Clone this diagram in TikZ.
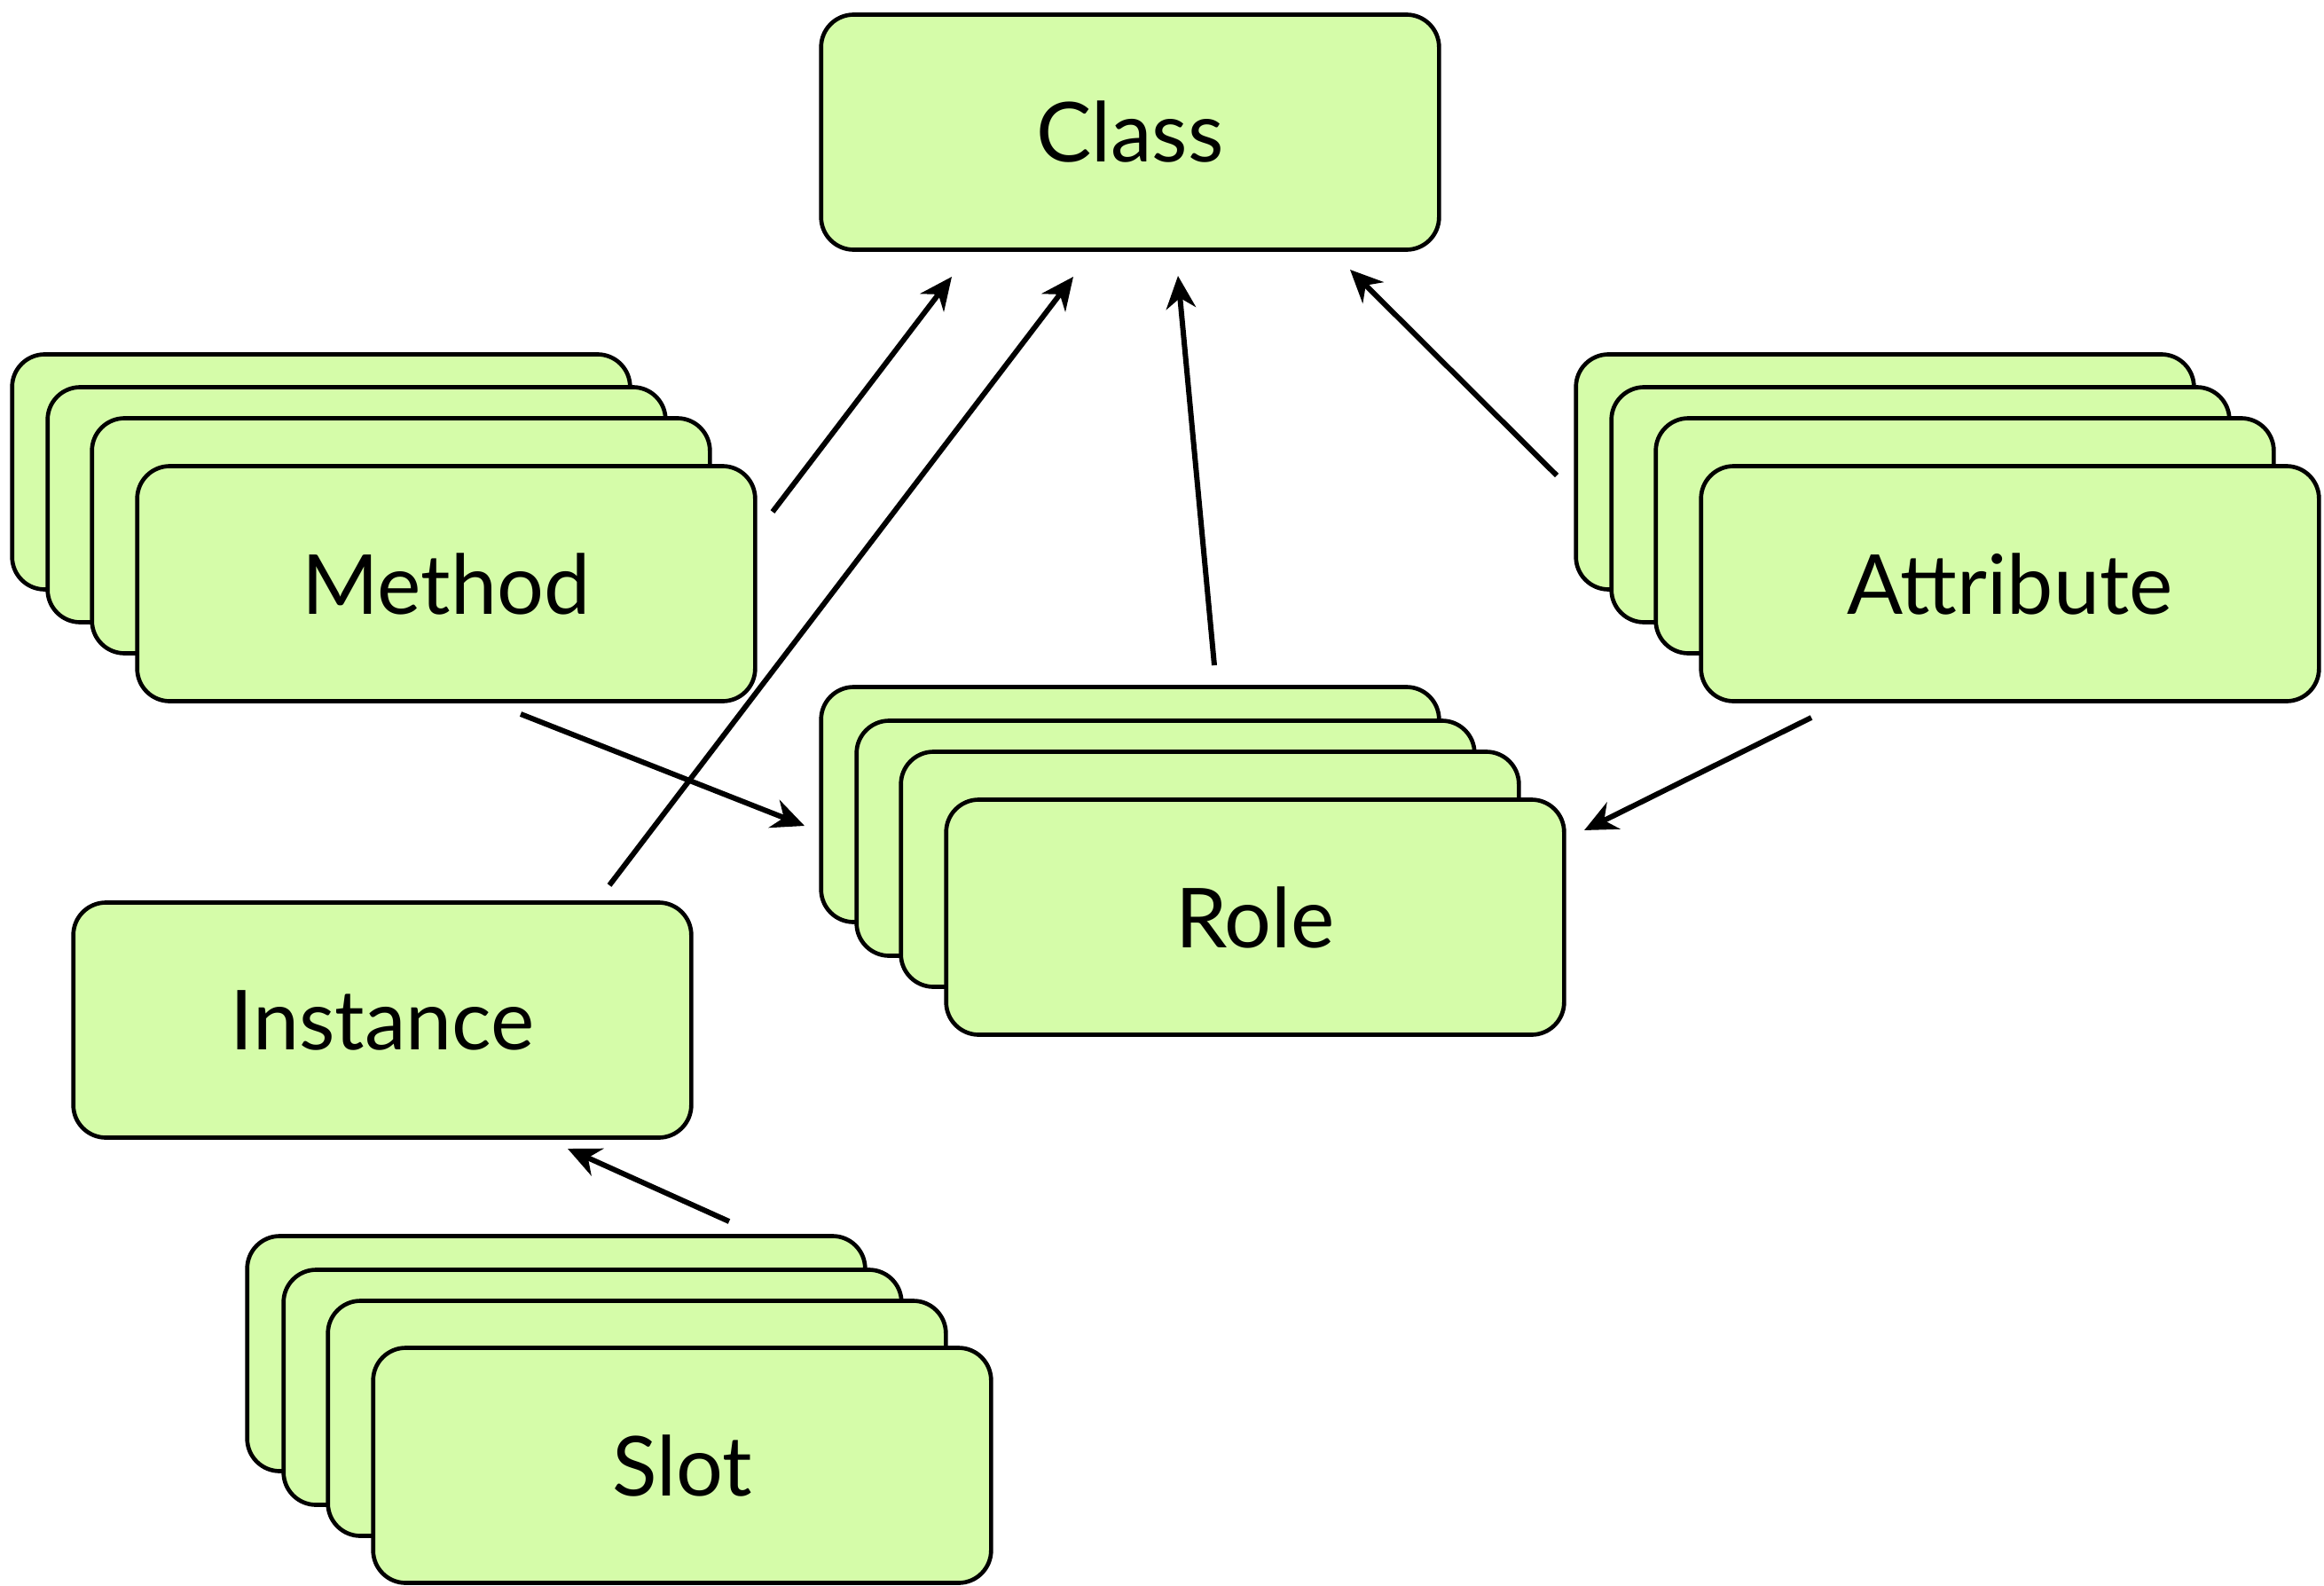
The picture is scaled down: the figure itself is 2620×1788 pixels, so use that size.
\documentclass[tikz,border=0pt]{standalone}
\usepackage{fontspec}
\setmainfont{Lato}
\usetikzlibrary{arrows.meta}
\definecolor{boxfill}{RGB}{213,252,169}
\begin{document}
\begin{tikzpicture}[x=0.3pt,y=-0.3pt,
  card/.style={draw=black, line width=1.4pt, fill=boxfill, rounded corners=11pt,
    minimum width=209pt, minimum height=79.5pt, inner sep=0pt, font=\fontsize{28}{34}\selectfont},
  link/.style={line width=1.8pt, -{Stealth[length=11pt,width=10pt,inset=3.5pt]}}]
\useasboundingbox (0,0) rectangle (2620,1788);
% Class
\node[card] (class) at (1274,149) {Class};
% Method stack
\node[card] (meth1) at (362,532) {};
\node[card] (meth2) at (402,569) {};
\node[card] (meth3) at (452,604) {};
\node[card] (meth) at (503,658) {Method};
% Attribute stack
\node[card] (attr1) at (2125,532) {};
\node[card] (attr2) at (2165,569) {};
\node[card] (attr3) at (2215,604) {};
\node[card] (attr) at (2266,658) {Attribute};
% Role stack
\node[card] (role1) at (1274,907) {};
\node[card] (role2) at (1314,945) {};
\node[card] (role3) at (1364,980) {};
\node[card] (role) at (1415,1034) {Role};
% Instance
\node[card] (inst) at (431,1150) {Instance};
% Slot stack
\node[card] (slot1) at (627,1526) {};
\node[card] (slot2) at (668,1564) {};
\node[card] (slot3) at (718,1599) {};
\node[card] (slot) at (769,1652) {Slot};
% connector end points
\coordinate (mcA) at (871,577);  \coordinate (mcB) at (1073,312);
\coordinate (icA) at (687,998);  \coordinate (icB) at (1210,312);
\coordinate (rcA) at (1369,750); \coordinate (rcB) at (1328,311);
\coordinate (acA) at (1755,536); \coordinate (acB) at (1522,304);
\coordinate (mrA) at (587,805);  \coordinate (mrB) at (907,931);
\coordinate (arA) at (2042,809); \coordinate (arB) at (1786,936);
\coordinate (siA) at (822,1377); \coordinate (siB) at (640,1295);
\draw[link] (mcA) -- (mcB);
\draw[link] (icA) -- (icB);
\draw[link] (rcA) -- (rcB);
\draw[link] (acA) -- (acB);
\draw[link] (mrA) -- (mrB);
\draw[link] (arA) -- (arB);
\draw[link] (siA) -- (siB);
\end{tikzpicture}
\end{document}
